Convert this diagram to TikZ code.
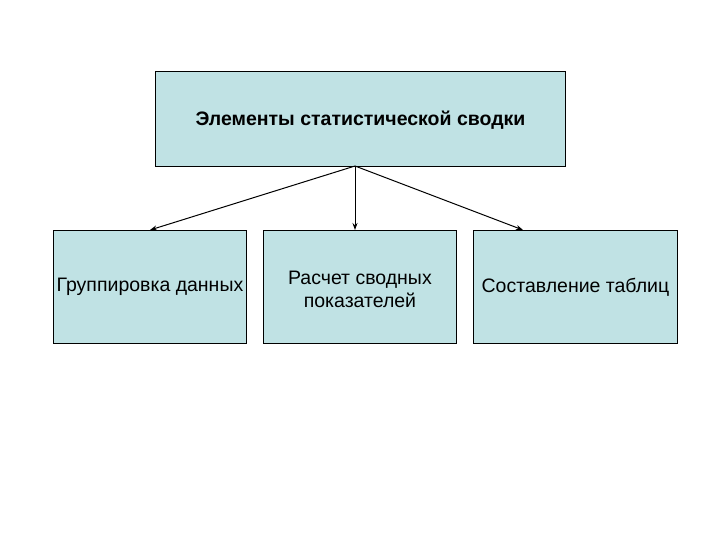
\documentclass[tikz,border=0pt]{standalone}
\usepackage{fontspec}
\usetikzlibrary{arrows.meta}
\setmainfont{Liberation Sans}
\definecolor{boxfill}{RGB}{192,226,228}
\begin{document}
\begin{tikzpicture}[x=1pt,y=-1pt,
  box/.style={draw=black,fill=boxfill,line width=0.9pt,anchor=north west,inner sep=0pt},
  lbl/.style={font=\fontsize{19.5}{23}\selectfont,align=center},
  arr/.style={-{Stealth[length=7pt,width=5pt]},line width=1pt}]
\useasboundingbox (0,0) rectangle (720,540);
\node[box,minimum width=410pt,minimum height=95pt] (top) at (155,71) {};
\node[font=\fontsize{19.5}{23}\selectfont\bfseries] at ([yshift=-1pt]top.center) {Элементы статистической сводки};
\node[box,minimum width=193pt,minimum height=113pt] (a) at (53,230) {};
\node[lbl] at (a.center) {Группировка данных};
\node[box,minimum width=193pt,minimum height=113pt] (b) at (263,230) {};
\node[lbl] at ([yshift=-2pt]b.center) {Расчет сводных\\показателей};
\node[box,minimum width=204pt,minimum height=113pt] (c) at (473,230) {};
\node[lbl] at (c.center) {Составление таблиц};
\coordinate (s) at (355,166);
\draw[arr] (s) -- (150,230);
\draw[arr] (s) -- (355,230);
\draw[arr] (s) -- (523,230);
\end{tikzpicture}
\end{document}
